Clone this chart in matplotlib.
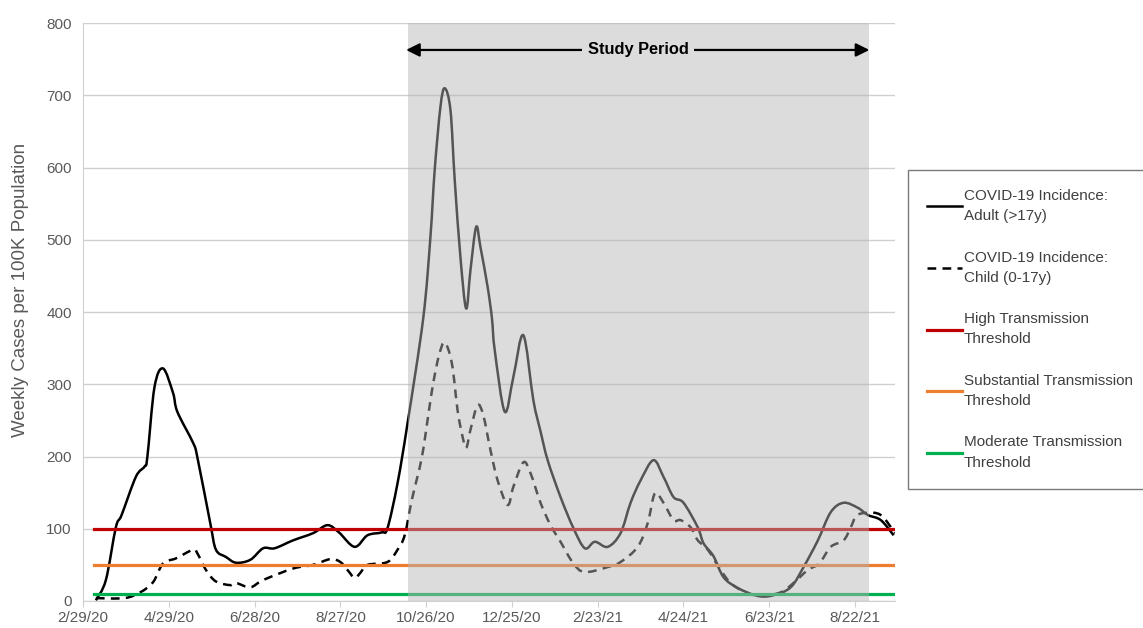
import matplotlib
matplotlib.use("Agg")
from matplotlib import pyplot as plt
import matplotlib.dates as mdates
from matplotlib.path import Path
from matplotlib.patches import PathPatch
import numpy as np
import pandas as pd

plt.rcParams['font.family'] = ['Liberation Sans', 'DejaVu Sans']

# adult weekly incidence (>17y)
adult_dates = ['2020-03-09', '2020-03-16', '2020-03-23', '2020-03-27', '2020-04-06', '2020-04-12',
               '2020-04-14', '2020-04-19', '2020-04-25', '2020-05-02', '2020-05-05', '2020-05-16',
               '2020-05-19', '2020-05-28', '2020-06-01', '2020-06-08', '2020-06-15', '2020-06-25',
               '2020-07-04', '2020-07-12', '2020-07-25', '2020-08-08', '2020-08-18', '2020-08-26',
               '2020-09-06', '2020-09-15', '2020-09-25', '2020-09-29', '2020-10-06', '2020-10-13',
               '2020-10-24', '2020-10-29', '2020-11-01', '2020-11-05', '2020-11-08', '2020-11-12',
               '2020-11-15', '2020-11-19', '2020-11-23', '2020-11-26', '2020-11-30', '2020-12-03',
               '2020-12-08', '2020-12-11', '2020-12-13', '2020-12-20', '2020-12-26', '2021-01-02',
               '2021-01-09', '2021-01-14', '2021-01-19', '2021-01-28', '2021-02-06', '2021-02-14',
               '2021-02-21', '2021-03-02', '2021-03-11', '2021-03-18', '2021-03-25', '2021-04-03',
               '2021-04-10', '2021-04-17', '2021-04-24', '2021-05-04', '2021-05-08', '2021-05-15',
               '2021-05-22', '2021-06-01', '2021-06-15', '2021-06-26', '2021-07-08', '2021-07-17',
               '2021-07-27', '2021-08-05', '2021-08-14', '2021-08-24', '2021-08-31', '2021-09-09',
               '2021-09-18']
adult = [1, 29, 102, 119, 172, 186,
         199, 296, 322, 288, 262, 219,
         199, 108, 71, 61, 53, 57,
         73, 73, 84, 94, 105, 95,
         75, 91, 95, 101, 163, 246,
         392, 504, 597, 684, 710, 680,
         583, 476, 405, 458, 518, 490,
         435, 392, 347, 262, 310, 368,
         278, 235, 195, 144, 101, 73,
         82, 75, 94, 136, 167, 195,
         172, 144, 136, 102, 80, 62,
         33, 18, 7, 8, 19, 47,
         84, 123, 136, 129, 119, 112,
         91]

# child weekly incidence (0-17y)
child_dates = ['2020-03-09', '2020-03-29', '2020-04-09', '2020-04-18', '2020-04-25', '2020-05-04',
               '2020-05-16', '2020-05-19', '2020-05-25', '2020-06-01', '2020-06-11', '2020-06-15',
               '2020-06-25', '2020-07-04', '2020-07-25', '2020-08-08', '2020-08-20', '2020-08-27',
               '2020-09-01', '2020-09-06', '2020-09-10', '2020-09-15', '2020-09-29', '2020-10-06',
               '2020-10-11', '2020-10-16', '2020-10-23', '2020-10-28', '2020-10-31', '2020-11-04',
               '2020-11-08', '2020-11-13', '2020-11-17', '2020-11-20', '2020-11-23', '2020-11-26',
               '2020-12-01', '2020-12-05', '2020-12-10', '2020-12-15', '2020-12-22', '2020-12-26',
               '2021-01-02', '2021-01-07', '2021-01-14', '2021-01-21', '2021-01-28', '2021-02-06',
               '2021-02-14', '2021-03-02', '2021-03-11', '2021-03-23', '2021-03-30', '2021-04-04',
               '2021-04-10', '2021-04-17', '2021-04-22', '2021-04-29', '2021-05-04', '2021-05-11',
               '2021-05-20', '2021-05-27', '2021-06-06', '2021-06-17', '2021-07-01', '2021-07-10',
               '2021-07-20', '2021-07-28', '2021-08-05', '2021-08-14', '2021-08-19', '2021-08-23',
               '2021-08-30', '2021-09-09', '2021-09-19']
child = [4, 4, 12, 26, 52, 59,
         71, 66, 43, 27, 22, 25,
         19, 29, 45, 50, 58, 54,
         43, 32, 39, 50, 54, 71,
         91, 140, 199, 264, 302, 340,
         358, 329, 264, 232, 212, 237,
         271, 257, 209, 167, 133, 158,
         192, 177, 136, 105, 82, 52,
         40, 47, 54, 75, 108, 149,
         136, 112, 112, 102, 84, 71,
         43, 25, 12, 7, 12, 25,
         43, 52, 75, 84, 102, 118,
         122, 119, 94]

thr_dates = ['2020-03-08', '2021-09-19']
high, substantial, moderate = 100, 50, 10
study_start, study_end = '2020-10-13', '2021-09-01'

tick_dates = pd.date_range('2020-02-29', periods=10, freq='60D')
tick_labels = [f"{d.month}/{d.day}/{d:%y}" for d in tick_dates]


def smooth_path(dates, vals):
    # Excel-style smoothed line: cubic Bezier through each point
    x = mdates.date2num(pd.to_datetime(dates).to_pydatetime())
    p = np.column_stack([x, np.asarray(vals, dtype=float)])
    verts = [p[0]]
    codes = [Path.MOVETO]
    n = len(p)
    for i in range(n - 1):
        p0 = p[i - 1] if i > 0 else p[i]
        p3 = p[i + 2] if i + 2 < n else p[i + 1]
        c1 = p[i] + (p[i + 1] - p0) / 6
        c2 = p[i + 1] - (p3 - p[i]) / 6
        verts += [c1, c2, p[i + 1]]
        codes += [Path.CURVE4] * 3
    return Path(verts, codes)


fig = plt.figure(figsize=(11.43, 6.28), dpi=100)
ax = fig.add_axes([0.0726, 0.043, 0.7105, 0.920])

ax.add_patch(PathPatch(smooth_path(adult_dates, adult), fill=False, edgecolor='black', lw=1.8,
                       joinstyle='round', zorder=3))
ax.add_patch(PathPatch(smooth_path(child_dates, child), fill=False, edgecolor='black', lw=1.8,
                       linestyle=(0, (3.5, 2.5)), capstyle='butt', zorder=3))
# legend handles for the two incidence series
ax.plot([], [], color='black', lw=1.8, label='COVID-19 Incidence:\nAdult (>17y)')
ax.plot([], [], color='black', lw=1.8, dashes=(3.5, 2.5), label='COVID-19 Incidence:\nChild (0-17y)')

td = pd.to_datetime(thr_dates)
ax.plot(td, [high, high], color='#C00000', lw=2.3, label='High Transmission\nThreshold', zorder=4)
ax.plot(td, [substantial] * 2, color='#ED7D31', lw=2.3, label='Substantial Transmission\nThreshold', zorder=4)
ax.plot(td, [moderate] * 2, color='#00B050', lw=2.3, label='Moderate Transmission\nThreshold', zorder=4)

# grey overlay for the study period
ax.axvspan(pd.Timestamp(study_start), pd.Timestamp(study_end), color=(0.71, 0.71, 0.71), alpha=0.47, lw=0, zorder=5)

ax.annotate('', xy=(pd.Timestamp('2021-09-01'), 763), xytext=(pd.Timestamp('2020-10-12'), 763),
            arrowprops=dict(arrowstyle='<|-|>', color='black', lw=1.6, mutation_scale=20,
                            shrinkA=0, shrinkB=0), zorder=6)
mid = pd.Timestamp(study_start) + (pd.Timestamp(study_end) - pd.Timestamp(study_start)) / 2
ax.text(mid, 763, 'Study Period', ha='center', va='center', fontsize=11.8, fontweight='bold',
        bbox=dict(facecolor='#dcdcdc', edgecolor='none', pad=4), zorder=7)

ax.set_xlim(pd.Timestamp('2020-02-29'), pd.Timestamp('2021-09-19'))
ax.set_ylim(0, 800)
ax.set_yticks(range(0, 801, 100))
ax.set_xticks(tick_dates)
ax.set_xticklabels(tick_labels)
ax.grid(axis='y', color='#d0d0d0', lw=1)
ax.set_axisbelow(True)
for s in ['top', 'right']:
    ax.spines[s].set_visible(False)
for s in ['left', 'bottom']:
    ax.spines[s].set_color('#d0d0d0')
ax.tick_params(axis='y', length=0, labelsize=11, labelcolor='#595959', pad=8)
ax.tick_params(axis='x', length=4, color='#d0d0d0', labelsize=11, labelcolor='#595959', pad=3)
ax.set_ylabel('Weekly Cases per 100K Population', fontsize=13.5, color='#595959')
ax.yaxis.set_label_coords(-0.066, 0.538)

leg = fig.legend(loc='upper left', bbox_to_anchor=(0.794, 0.729), fontsize=11, frameon=True,
                 fancybox=False, edgecolor='#595959', handlelength=2.3, handletextpad=0.15,
                 labelspacing=1.8, borderpad=1.25, borderaxespad=0)
leg.get_frame().set_linewidth(1.0)
for t in leg.get_texts():
    t.set_color('#404040')
    t.set_linespacing(1.55)

fig.savefig('out.png', dpi=100)
